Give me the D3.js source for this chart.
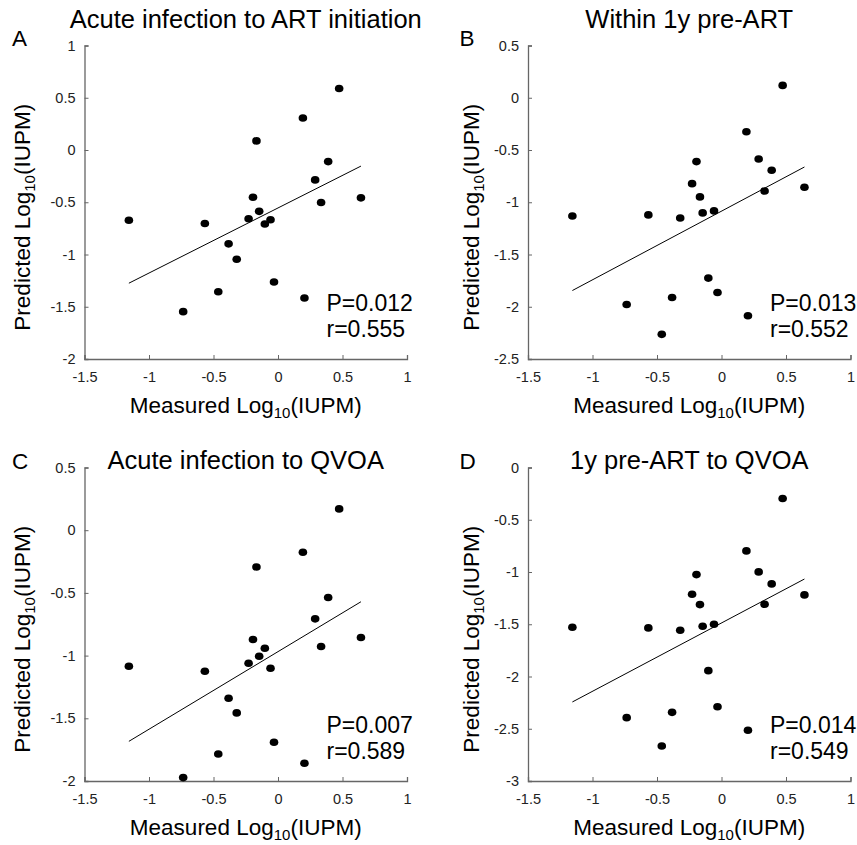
<!DOCTYPE html>
<html>
<head>
<meta charset="utf-8">
<script src="https://cdn.jsdelivr.net/npm/d3@7"></script>
<style>
  html, body { margin: 0; padding: 0; background: #fff; }
  svg { display: block; font-family: "Liberation Sans", Arial, sans-serif; }
</style>
</head>
<body>
<svg id="chart" width="857" height="845"></svg>
<script>
// Measured log10(IUPM) per participant (shared by all four panels)
const measured = [-1.156, -0.735, -0.567, -0.463, -0.383, -0.320, -0.228, -0.194, -0.167, -0.146,
                  -0.102, -0.058, -0.031, 0.193, 0.205, 0.288, 0.334, 0.389, 0.474, 0.643];

// Model-predicted log10(IUPM) for each time window
const predictedA = [-0.672, -1.547, -0.704, -1.356, -0.898, -1.046, -0.658, -0.452, 0.087, -0.587,
                    -0.708, -0.668, -1.263, 0.306, -1.416, -0.286, -0.503, -0.111, 0.588, -0.458];
const predictedB = [-1.131, -1.978, -1.121, -2.264, -1.911, -1.150, -0.822, -0.611, -0.949, -1.102,
                    -1.726, -1.083, -1.863, -0.325, -2.086, -0.586, -0.892, -0.694, 0.118, -0.857];
const predictedC = [-1.085, -1.973, -1.125, -1.785, -1.340, -1.457, -1.061, -0.872, -0.293, -1.005,
                    -0.941, -1.101, -1.691, -0.176, -1.859, -0.707, -0.928, -0.537, 0.170, -0.856];
const predictedD = [-1.529, -2.394, -1.535, -2.665, -2.343, -1.558, -1.213, -1.025, -1.312, -1.519,
                    -1.944, -1.500, -2.289, -0.798, -2.515, -0.999, -1.309, -1.114, -0.297, -1.219];

const panelLetters = ["A", "B", "C", "D"];
const panelTitles = ["Acute infection to ART initiation", "Within 1y pre-ART",
                     "Acute infection to QVOA", "1y pre-ART to QVOA"];
const pValues = ["P=0.012", "P=0.013", "P=0.007", "P=0.014"];
const rValues = ["r=0.555", "r=0.552", "r=0.589", "r=0.549"];

const xTicks = [-1.5, -1, -0.5, 0, 0.5, 1];
const yDomains = [[-2, 1], [-2.5, 0.5], [-2, 0.5], [-3, 0]];

const predicted = [predictedA, predictedB, predictedC, predictedD];

const svg = d3.select("#chart");
const fmt = v => String(v);  // plain hyphen-minus labels

// plot-area boxes (left, top, width, height)
const boxes = [
  { x: 84.5, y: 45.5, w: 322.5, h: 313.5 },
  { x: 528,  y: 45.5, w: 322.5, h: 313.5 },
  { x: 84.5, y: 467.5, w: 322.5, h: 313.5 },
  { x: 528,  y: 467.5, w: 322.5, h: 313.5 }
];

function olsFit(xs, ys) {
  const mx = d3.mean(xs), my = d3.mean(ys);
  let sxy = 0, sxx = 0;
  xs.forEach((x, i) => { sxy += (x - mx) * (ys[i] - my); sxx += (x - mx) * (x - mx); });
  const slope = sxy / sxx;
  return { slope, intercept: my - slope * mx };
}

boxes.forEach((b, i) => {
  const g = svg.append("g").attr("transform", `translate(${b.x},${b.y})`);
  const x = d3.scaleLinear().domain([-1.5, 1]).range([0, b.w]);
  const yd = yDomains[i];
  const y = d3.scaleLinear().domain(yd).range([b.h, 0]);
  const yTicks = d3.range(yd[0], yd[1] + 0.001, 0.5).map(v => Math.round(v * 10) / 10);

  // axes with short inward ticks
  const xAxis = d3.axisBottom(x).tickValues(xTicks).tickSize(-4).tickPadding(13).tickFormat(fmt);
  const yAxis = d3.axisLeft(y).tickValues(yTicks).tickSize(-4).tickPadding(9).tickFormat(fmt);

  const gx = g.append("g").attr("transform", `translate(0,${b.h})`).call(xAxis);
  const gy = g.append("g").call(yAxis);
  [gx, gy].forEach(a => {
    a.select(".domain").attr("stroke", "#666").attr("stroke-width", 1.3);
    a.selectAll(".tick line").attr("stroke", "#666").attr("stroke-width", 1);
    a.selectAll(".tick text").attr("fill", "#222").style("font-size", "14.5px")
      .style("font-family", "'Liberation Sans', Arial, sans-serif");
  });
  gx.selectAll(".tick text").attr("dy", "0.71em");

  // regression line across the measured range
  const ys = predicted[i];
  const fit = olsFit(measured, ys);
  const xr = d3.extent(measured);
  g.append("line")
    .attr("x1", x(xr[0])).attr("y1", y(fit.intercept + fit.slope * xr[0]))
    .attr("x2", x(xr[1])).attr("y2", y(fit.intercept + fit.slope * xr[1]))
    .attr("stroke", "#000").attr("stroke-width", 1);

  // points
  g.selectAll("ellipse.pt").data(measured).enter().append("ellipse")
    .attr("class", "pt")
    .attr("cx", d => x(d)).attr("cy", (d, j) => y(ys[j]))
    .attr("rx", 4.3).attr("ry", 3.8).attr("fill", "#000");

  // title
  g.append("text").attr("x", b.w / 2).attr("y", i < 2 ? -17.5 : 1.5)
    .attr("text-anchor", "middle").style("font-size", "25.5px").attr("fill", "#000")
    .text(panelTitles[i]);

  // panel letter
  g.append("text").attr("x", (i % 2 === 0 ? 12 : 459.5) - b.x).attr("y", i < 2 ? 0.5 : 1.5)
    .style("font-size", "22.5px").attr("fill", "#000").text(panelLetters[i]);

  // statistics
  const st = g.append("text").attr("x", 242).attr("y", b.h - 48)
    .style("font-size", "23px").attr("fill", "#000");
  st.append("tspan").attr("x", 242).text(pValues[i]);
  st.append("tspan").attr("x", 242).attr("dy", 26).text(rValues[i]);

  // x-axis title
  const xt = g.append("text").attr("x", b.w / 2).attr("y", b.h + 54)
    .attr("text-anchor", "middle").style("font-size", "22.5px").attr("fill", "#000");
  xt.append("tspan").text("Measured Log");
  xt.append("tspan").attr("dy", 5).style("font-size", "15px").text("10");
  xt.append("tspan").attr("dy", -5).text("(IUPM)");

  // y-axis title
  const ytx = (i % 2 === 0 ? 22 : 471) - b.x;
  const yt = g.append("text")
    .attr("transform", `translate(${ytx + 8},${b.h / 2 + 15}) rotate(-90)`)
    .attr("text-anchor", "middle").style("font-size", "22.5px").attr("fill", "#000");
  yt.append("tspan").text("Predicted Log");
  yt.append("tspan").attr("dy", 5).style("font-size", "15px").text("10");
  yt.append("tspan").attr("dy", -5).text("(IUPM)");
});
</script>
</body>
</html>
